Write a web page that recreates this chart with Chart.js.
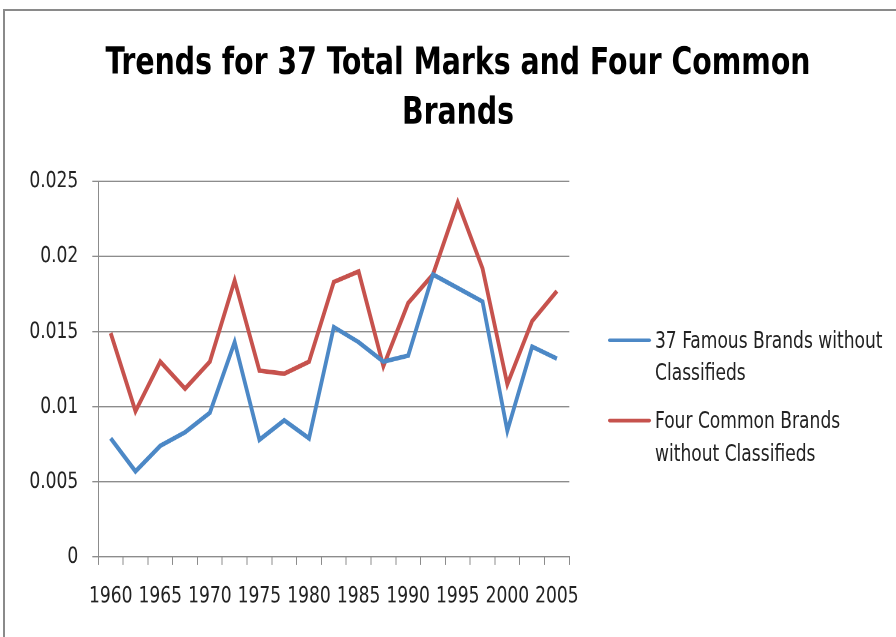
<!DOCTYPE html>
<html lang="en">
<head>
    <meta charset="UTF-8">
    <title>Trends for 37 Total Marks and Four Common Brands</title>
    <script src="https://cdn.jsdelivr.net/npm/chart.js"></script>
    <style>
        html, body {
            margin: 0;
            padding: 0;
            background: #fff;
            overflow: hidden;
        }
        .page {
            position: relative;
            width: 896px;
            height: 637px;
            overflow: hidden;
        }
        /* the original picture is stretched a bit in height, so is this one */
        .chart-wrap {
            position: absolute;
            left: 0;
            top: 0;
            width: 896px;
            height: 531px;
            transform: scaleY(1.2);
            transform-origin: 0 0;
        }
        .frame {
            position: absolute;
            left: 3px;
            top: 9px;
            width: 920px;
            height: 660px;
            border: 2px solid #8a8a8a;
            box-sizing: border-box;
            pointer-events: none;
        }
        #legend {
            position: absolute;
            left: 608px;
            top: 270px;
            font-family: 'DejaVu Sans Condensed', 'DejaVu Sans', sans-serif;
            font-size: 19px;
            line-height: 26.7px;
            color: #222;
        }
        .legend-item {
            display: flex;
            align-items: flex-start;
            margin-bottom: 14px;
        }
        .legend-swatch {
            width: 43px;
            height: 3.4px;
            margin-top: 11.6px;
            margin-right: 4px;
            border-radius: 2px;
        }
        .legend-text {
            width: 236px;
        }
    </style>
</head>
<body>

<div class="page">
    <div class="chart-wrap">
        <canvas id="trendChart"></canvas>
        <div id="legend"></div>
    </div>
    <div class="frame"></div>
</div>

<script>
    // Categories (every other one gets a printed label, like the Excel original)
    const years = ['1960', '1962', '1965', '1967', '1970', '1972', '1975', '1977', '1980', '1982',
                   '1985', '1987', '1990', '1992', '1995', '1997', '2000', '2002', '2005'];

    // Values
    const famousBrands = [0.0079, 0.0057, 0.0074, 0.0083, 0.0096, 0.0143, 0.0078, 0.0091, 0.0079, 0.0153,
                          0.0143, 0.0130, 0.0134, 0.0188, 0.0179, 0.0170, 0.0084, 0.0140, 0.0132];
    const commonBrands = [0.0149, 0.0097, 0.0130, 0.0112, 0.0130, 0.0184, 0.0124, 0.0122, 0.0130, 0.0183,
                          0.0190, 0.0127, 0.0169, 0.0188, 0.0236, 0.0192, 0.0115, 0.0157, 0.0177];

    const seriesNames = ['37 Famous Brands without Classifieds', 'Four Common Brands without Classifieds'];
    const titleLines = ['Trends for 37 Total Marks and Four Common', 'Brands'];

    const FONT = "'DejaVu Sans Condensed', 'DejaVu Sans', sans-serif";
    const gridColor = '#8c8c8c';
    const blue = '#4c88c6';
    const red = '#c6524d';

    const ctx = document.getElementById('trendChart').getContext('2d');

    const trendChart = new Chart(ctx, {
        type: 'line',
        data: {
            labels: years,
            datasets: [
                {
                    label: seriesNames[0],
                    data: famousBrands,
                    borderColor: blue,
                    backgroundColor: blue,
                    borderWidth: 3.8,
                    pointRadius: 0,
                    tension: 0,
                    fill: false
                },
                {
                    label: seriesNames[1],
                    data: commonBrands,
                    borderColor: red,
                    backgroundColor: red,
                    borderWidth: 3.8,
                    pointRadius: 0,
                    tension: 0,
                    fill: false
                }
            ]
        },
        options: {
            responsive: true,
            maintainAspectRatio: false,
            animation: false,
            devicePixelRatio: 2,
            layout: {
                padding: { left: 20, top: 0, right: 0, bottom: 6.8 }
            },
            plugins: {
                legend: { display: false },
                tooltip: { enabled: false },
                title: {
                    display: true,
                    text: titleLines,
                    color: '#000',
                    font: { family: FONT, size: 31.5, weight: 'bold', lineHeight: '41.7px' },
                    padding: { top: 32.5, bottom: 35.2 }
                }
            },
            scales: {
                x: {
                    offset: true,
                    grid: {
                        offset: true,
                        drawOnChartArea: false,
                        drawTicks: true,
                        tickLength: 6.7,
                        color: gridColor
                    },
                    border: { color: gridColor, width: 1 },
                    ticks: {
                        autoSkip: false,
                        maxRotation: 0,
                        padding: 15,
                        color: '#222',
                        font: { family: FONT, size: 19 },
                        callback: function (val, idx) {
                            return idx % 2 === 0 ? this.getLabelForValue(val) : '';
                        }
                    },
                    afterFit: function (scale) { scale.height = 60; }
                },
                y: {
                    min: 0,
                    max: 0.025,
                    ticks: {
                        stepSize: 0.005,
                        padding: 14,
                        color: '#222',
                        font: { family: FONT, size: 19 },
                        callback: value => String(Number(value.toFixed(3)))
                    },
                    grid: {
                        color: gridColor,
                        tickLength: 6
                    },
                    border: { color: gridColor, width: 1 },
                    afterFit: function (scale) { scale.width = 78.3; }
                },
                y2: {
                    position: 'right',
                    display: true,
                    grid: { display: false },
                    border: { display: false },
                    ticks: { display: false },
                    afterFit: function (scale) { scale.width = 326.7; }
                }
            }
        }
    });

    // Legend built as HTML so the long labels wrap like the original
    const legendEl = document.getElementById('legend');
    trendChart.data.datasets.forEach(ds => {
        const item = document.createElement('div');
        item.className = 'legend-item';
        const swatch = document.createElement('div');
        swatch.className = 'legend-swatch';
        swatch.style.background = ds.borderColor;
        const text = document.createElement('div');
        text.className = 'legend-text';
        text.textContent = ds.label;
        item.appendChild(swatch);
        item.appendChild(text);
        legendEl.appendChild(item);
    });
</script>

</body>
</html>
